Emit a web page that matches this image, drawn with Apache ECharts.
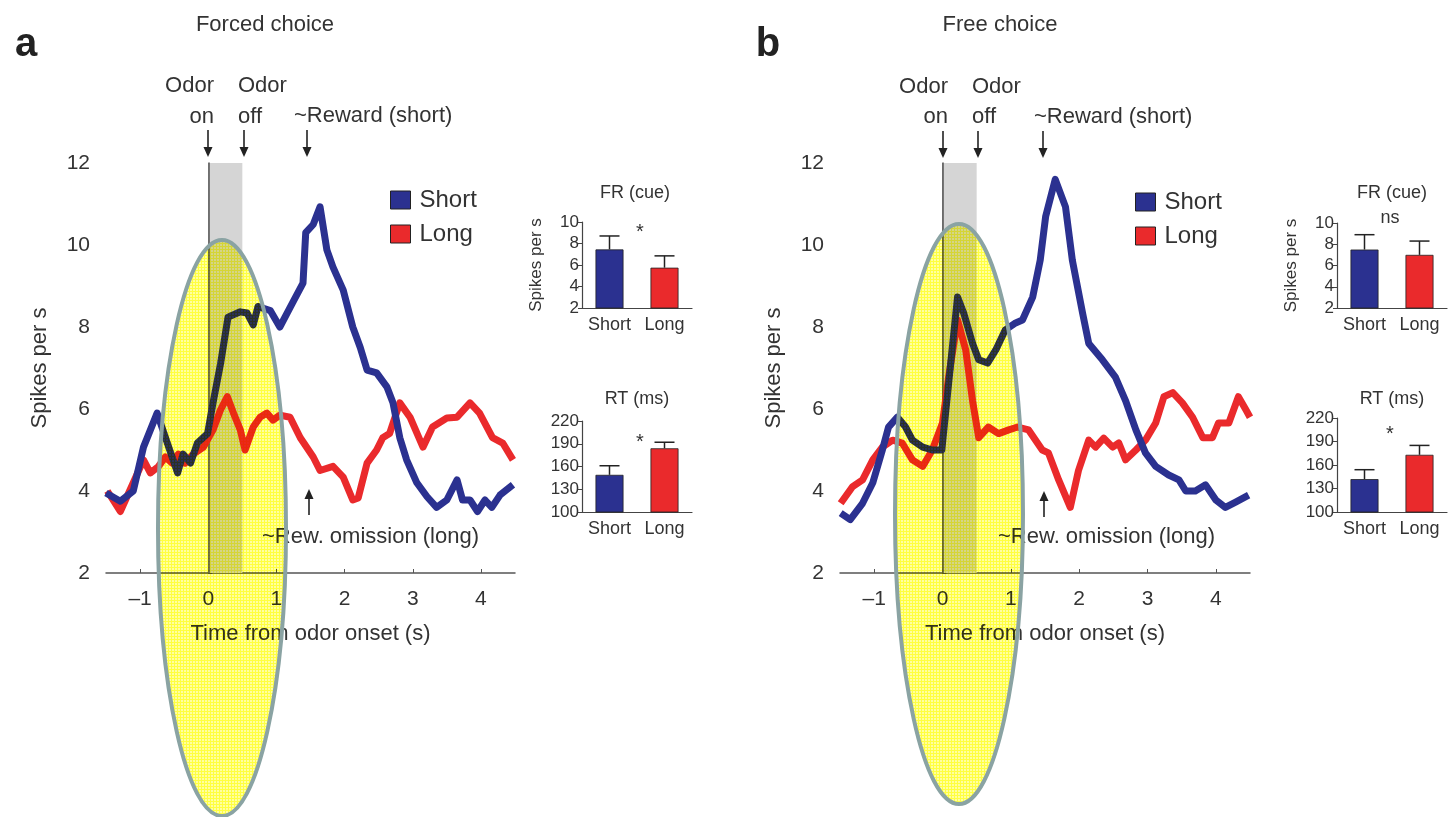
<!DOCTYPE html>
<html>
<head>
<meta charset="utf-8">
<script src="https://cdn.jsdelivr.net/npm/echarts@6/dist/echarts.min.js"></script>
<style>
  html, body { margin: 0; padding: 0; background: #fff; }
  #main { width: 1450px; height: 817px; }
</style>
</head>
<body>
<div id="main"></div>
<script>
var FONT = "'Liberation Sans', Arial, sans-serif";
var BLUE = '#2b3190';
var RED = '#ea2a2c';

// main traces, panel a (forced choice)
var tShortA = [-1.5,-1.29,-1.10,-0.95,-0.75,-0.60,-0.45,-0.37,-0.26,-0.16,-0.01,0.07,0.18,0.29,0.47,0.57,0.66,0.73,0.91,1.05,1.24,1.39,1.43,1.54,1.64,1.74,1.83,1.98,2.12,2.23,2.33,2.47,2.62,2.71,2.81,2.91,3.06,3.21,3.35,3.50,3.65,3.73,3.84,3.95,4.06,4.16,4.28,4.47];
var vShortA = [3.95,3.75,4.0,5.07,5.9,5.17,4.44,4.9,4.68,5.17,5.4,6.15,7.1,8.24,8.37,8.34,8.05,8.5,8.4,8.0,8.6,9.07,10.3,10.5,10.93,9.88,9.46,8.9,8.0,7.5,6.95,6.88,6.54,6.15,5.3,4.76,4.2,3.86,3.6,3.78,4.27,3.78,3.78,3.5,3.78,3.6,3.9,4.15];
var tLongA = [-1.48,-1.29,-1.10,-0.95,-0.85,-0.73,-0.63,-0.53,-0.44,-0.34,-0.22,-0.07,0.07,0.18,0.28,0.37,0.47,0.54,0.66,0.76,0.86,0.95,1.05,1.20,1.35,1.54,1.64,1.83,1.98,2.12,2.20,2.33,2.47,2.56,2.66,2.81,2.96,3.15,3.29,3.50,3.65,3.84,3.98,4.17,4.32,4.47];
var vLongA = [4.0,3.5,4.2,4.76,4.44,4.6,4.83,4.68,4.9,4.68,4.9,5.07,5.49,5.98,6.3,5.9,5.49,5.0,5.56,5.8,5.9,5.73,5.85,5.8,5.3,4.83,4.5,4.6,4.34,3.78,3.83,4.68,5.0,5.3,5.4,6.15,5.8,5.07,5.56,5.78,5.8,6.15,5.9,5.3,5.17,4.76];

// main traces, panel b (free choice)
var tShortB = [-1.49,-1.35,-1.17,-1.02,-0.88,-0.79,-0.66,-0.54,-0.44,-0.29,-0.15,-0.01,0.09,0.22,0.31,0.44,0.53,0.66,0.78,0.92,1.07,1.17,1.32,1.43,1.51,1.65,1.80,1.90,2.05,2.14,2.34,2.53,2.68,2.83,2.97,3.12,3.31,3.46,3.56,3.70,3.85,4.00,4.14,4.29,4.48];
var vShortB = [3.46,3.3,3.7,4.2,5.0,5.56,5.8,5.56,5.24,5.07,5.0,5.0,6.63,8.73,8.34,7.6,7.2,7.12,7.44,7.93,8.1,8.17,8.73,9.63,10.7,11.6,10.93,9.63,8.34,7.6,7.2,6.78,6.2,5.49,4.93,4.6,4.39,4.27,4.0,4.0,4.15,3.78,3.6,3.73,3.9];
var tLongB = [-1.49,-1.32,-1.17,-1.02,-0.88,-0.73,-0.59,-0.44,-0.29,-0.15,0.0,0.09,0.22,0.34,0.44,0.53,0.67,0.82,0.97,1.10,1.26,1.46,1.55,1.70,1.87,1.99,2.14,2.24,2.36,2.49,2.58,2.68,2.83,2.97,3.12,3.24,3.37,3.51,3.66,3.81,3.95,4.04,4.19,4.33,4.44,4.5];
var vLongB = [3.7,4.1,4.27,4.76,5.07,5.24,5.17,4.76,4.6,5.0,5.66,6.78,8.17,7.44,6.2,5.3,5.56,5.4,5.49,5.56,5.49,5.0,4.93,4.27,3.6,4.5,5.24,5.07,5.29,5.07,5.17,4.76,5.0,5.24,5.66,6.3,6.4,6.15,5.8,5.3,5.3,5.66,5.66,6.3,5.98,5.8];

// inset bars: [short, long] mean and top of error bar
var barCats = ['Short', 'Long'];
var frMeanA = [7.45, 5.75], frErrA = [8.7, 6.85];
var rtMeanA = [149, 184],  rtErrA = [161, 192];
var frMeanB = [7.5, 7.0],  frErrB = [8.9, 8.3];
var rtMeanB = [142, 173],  rtErrB = [154, 185];

function zip(t, v) {
    var out = [];
    for (var i = 0; i < t.length; i++) out.push([t[i], v[i]]);
    return out;
}

// yellow grid texture for the highlight ellipses (multiplied over the plot)
function stipple() {
    var c = document.createElement('canvas');
    c.width = 3; c.height = 3;
    var ctx = c.getContext('2d');
    ctx.fillStyle = '#ffffa0';
    ctx.fillRect(0, 0, 3, 3);
    ctx.fillStyle = '#ffff40';
    ctx.fillRect(0, 0, 3, 1);
    ctx.fillRect(0, 0, 1, 3);
    return { image: c, repeat: 'repeat' };
}

var myChart = echarts.init(document.getElementById('main'));

function mainX(gi) {
    return {
        type: 'value', gridIndex: gi, min: -1.5, max: 4.5, splitNumber: 6,
        name: 'Time from odor onset (s)', nameLocation: 'middle', nameGap: 50,
        nameTextStyle: { fontSize: 22, color: '#333', fontFamily: FONT },
        axisLine: { lineStyle: { color: '#555', width: 1.5 } },
        axisTick: { inside: true, length: 4, lineStyle: { color: '#555' } },
        splitLine: { show: false },
        axisLabel: {
            fontSize: 21, color: '#333', fontFamily: FONT, margin: 16,
            showMinLabel: false, showMaxLabel: false,
            formatter: function (v) {
                if (Math.round(v) !== v) return '';
                return v < 0 ? '\u2013' + Math.abs(v) : '' + v;
            }
        }
    };
}
function mainY(gi) {
    return {
        type: 'value', gridIndex: gi, min: 2, max: 12, interval: 2,
        name: 'Spikes per s', nameLocation: 'middle', nameGap: 55,
        nameTextStyle: { fontSize: 22, color: '#333', fontFamily: FONT },
        axisLine: { show: true, lineStyle: { color: '#555', width: 1.5 } },
        axisTick: { show: true, inside: true, length: 4, lineStyle: { color: '#555' } },
        splitLine: { show: false },
        axisLabel: { fontSize: 21, color: '#333', fontFamily: FONT, margin: 16 }
    };
}
function barX(gi) {
    return {
        type: 'category', gridIndex: gi, data: barCats,
        axisLine: { lineStyle: { color: '#444', width: 1.2 } },
        axisTick: { length: 4, lineStyle: { color: '#444' } },
        axisLabel: { interval: 0, fontSize: 18, color: '#333', fontFamily: FONT, margin: 8 }
    };
}
function barY(gi, min, max, step, name) {
    return {
        type: 'value', gridIndex: gi, min: min, max: max, interval: step,
        name: name, nameLocation: 'middle', nameGap: 37,
        nameTextStyle: { fontSize: 17, color: '#333', fontFamily: FONT },
        axisLine: { show: true, lineStyle: { color: '#444', width: 1.2 } },
        axisTick: { show: true, length: 4, lineStyle: { color: '#444' } },
        splitLine: { show: false },
        axisLabel: { fontSize: 17, color: '#333', fontFamily: FONT, margin: 3 }
    };
}

function errRender(params, api) {
    var idx = api.value(0);
    var p0 = api.coord([idx, api.value(1)]);
    var p1 = api.coord([idx, api.value(2)]);
    var half = 10;
    return {
        type: 'group',
        children: [
            { type: 'line', shape: { x1: p0[0], y1: p0[1], x2: p1[0], y2: p1[1] }, style: { stroke: '#222', lineWidth: 1.5 } },
            { type: 'line', shape: { x1: p1[0] - half, y1: p1[1], x2: p1[0] + half, y2: p1[1] }, style: { stroke: '#222', lineWidth: 1.5 } }
        ]
    };
}

function barSeries(gi, means, errs) {
    var cols = [BLUE, RED];
    var bars = [], ebs = [];
    for (var i = 0; i < means.length; i++) {
        bars.push({ value: means[i], itemStyle: { color: cols[i], borderColor: '#222', borderWidth: 0.8 } });
        ebs.push([i, means[i], errs[i]]);
    }
    return [
        { type: 'bar', name: 'bars' + gi, xAxisIndex: gi, yAxisIndex: gi, barWidth: 28, data: bars, z: 2 },
        { type: 'custom', name: 'err' + gi, xAxisIndex: gi, yAxisIndex: gi, renderItem: errRender,
          encode: { x: 0, y: [1, 2] }, data: ebs, z: 3 }
    ];
}

function lineSeries(name, gi, t, v, color, withMarks) {
    var s = {
        type: 'line', name: name, xAxisIndex: gi, yAxisIndex: gi,
        data: zip(t, v), showSymbol: false, symbol: 'none',
        lineStyle: { color: color, width: 7, join: 'round' },
        itemStyle: { color: color }, z: 5
    };
    if (withMarks) {
        s.markArea = {
            silent: true,
            itemStyle: { color: '#d5d5d5' },
            data: [[{ xAxis: 0 }, { xAxis: 0.5 }]]
        };
        s.markLine = {
            silent: true, symbol: 'none', label: { show: false },
            lineStyle: { color: '#555', width: 1.5, type: 'solid' },
            data: [{ xAxis: 0 }]
        };
    }
    return s;
}

function txt(x, y, s, size, align, extra) {
    var o = {
        type: 'text', x: x, y: y, z: 50,
        style: { text: s, fontSize: size, fontFamily: FONT, fill: '#333', align: align || 'center', verticalAlign: 'middle' }
    };
    if (extra) for (var k in extra) o.style[k] = extra[k];
    return o;
}
function arrow(x, y1, y2) {
    // tail at y1, head at y2
    var dir = y2 > y1 ? 1 : -1;
    return {
        type: 'group', z: 50,
        children: [
            { type: 'line', z: 50, shape: { x1: x, y1: y1, x2: x, y2: y2 - dir * 6 }, style: { stroke: '#222', lineWidth: 1.6 } },
            { type: 'polygon', z: 50, shape: { points: [[x - 4.5, y2 - dir * 10], [x + 4.5, y2 - dir * 10], [x, y2]] }, style: { fill: '#222' } }
        ]
    };
}

function ellipse(cx, cy, rx, ry) {
    return [
        { type: 'ellipse', z: 100, shape: { cx: cx, cy: cy, rx: rx, ry: ry },
          style: { fill: stipple(), blend: 'multiply' } },
        { type: 'ellipse', z: 101, shape: { cx: cx, cy: cy, rx: rx, ry: ry },
          style: { fill: null, stroke: '#8aa3a3', lineWidth: 4 } }
    ];
}

var graphics = [
    // panel a
    txt(26, 45, 'a', 40, 'center', { fontWeight: 'bold', fill: '#222' }),
    txt(265, 25, 'Forced choice', 22),
    txt(214, 86, 'Odor', 22, 'right'), txt(214, 117, 'on', 22, 'right'),
    txt(238, 86, 'Odor', 22, 'left'), txt(238, 117, 'off', 22, 'left'),
    txt(294, 116, '~Reward (short)', 22, 'left'),
    arrow(208, 130, 157), arrow(244, 130, 157), arrow(307, 130, 157),
    arrow(309, 515, 489),
    txt(262, 537, '~Rew. omission (long)', 22, 'left'),
    txt(635, 193, 'FR (cue)', 18), txt(640, 232, '*', 20),
    txt(637, 399, 'RT (ms)', 18), txt(640, 442, '*', 20),
    // panel b
    txt(768, 45, 'b', 40, 'center', { fontWeight: 'bold', fill: '#222' }),
    txt(1000, 25, 'Free choice', 22),
    txt(948, 87, 'Odor', 22, 'right'), txt(948, 117, 'on', 22, 'right'),
    txt(972, 87, 'Odor', 22, 'left'), txt(972, 117, 'off', 22, 'left'),
    txt(1034, 117, '~Reward (short)', 22, 'left'),
    arrow(943, 131, 158), arrow(978, 131, 158), arrow(1043, 131, 158),
    arrow(1044, 517, 491),
    txt(998, 537, '~Rew. omission (long)', 22, 'left'),
    txt(1392, 193, 'FR (cue)', 18), txt(1390, 218, 'ns', 18),
    txt(1392, 399, 'RT (ms)', 18), txt(1390, 434, '*', 20)
].concat(ellipse(222, 528, 64, 288), ellipse(959, 514, 64, 290));

var legendBase = {
    data: ['Short', 'Long'], orient: 'vertical', icon: 'rect', selectedMode: false,
    itemWidth: 20, itemHeight: 18, itemGap: 10,
    itemStyle: { borderColor: '#222', borderWidth: 1 },
    textStyle: { fontSize: 24, color: '#333', fontFamily: FONT, lineHeight: 24, padding: [0, 0, 0, 4] }
};

var option = {
    backgroundColor: '#fff',
    animation: false,
    grid: [
        { left: 106, top: 163, width: 409, height: 410, outerBoundsMode: 'none' },
        { left: 840, top: 163, width: 410, height: 410, outerBoundsMode: 'none' },
        { left: 582, top: 222, width: 110, height: 86, outerBoundsMode: 'none' },
        { left: 582, top: 421, width: 110, height: 91, outerBoundsMode: 'none' },
        { left: 1337, top: 223, width: 110, height: 85, outerBoundsMode: 'none' },
        { left: 1337, top: 418, width: 110, height: 94, outerBoundsMode: 'none' }
    ],
    xAxis: [mainX(0), mainX(1), barX(2), barX(3), barX(4), barX(5)],
    yAxis: [mainY(0), mainY(1),
            barY(2, 2, 10, 2, 'Spikes per s'), barY(3, 100, 220, 30, ''),
            barY(4, 2, 10, 2, 'Spikes per s'), barY(5, 100, 220, 30, '')],
    legend: [
        Object.assign({}, legendBase, { left: 385, top: 183 }),
        Object.assign({}, legendBase, { left: 1130, top: 185 })
    ],
    series: [
        lineSeries('Long', 0, tLongA, vLongA, RED, true),
        lineSeries('Short', 0, tShortA, vShortA, BLUE, false),
        lineSeries('Long', 1, tLongB, vLongB, RED, true),
        lineSeries('Short', 1, tShortB, vShortB, BLUE, false)
    ].concat(barSeries(2, frMeanA, frErrA), barSeries(3, rtMeanA, rtErrA),
             barSeries(4, frMeanB, frErrB), barSeries(5, rtMeanB, rtErrB)),
    graphic: graphics
};

myChart.setOption(option);
</script>
</body>
</html>
